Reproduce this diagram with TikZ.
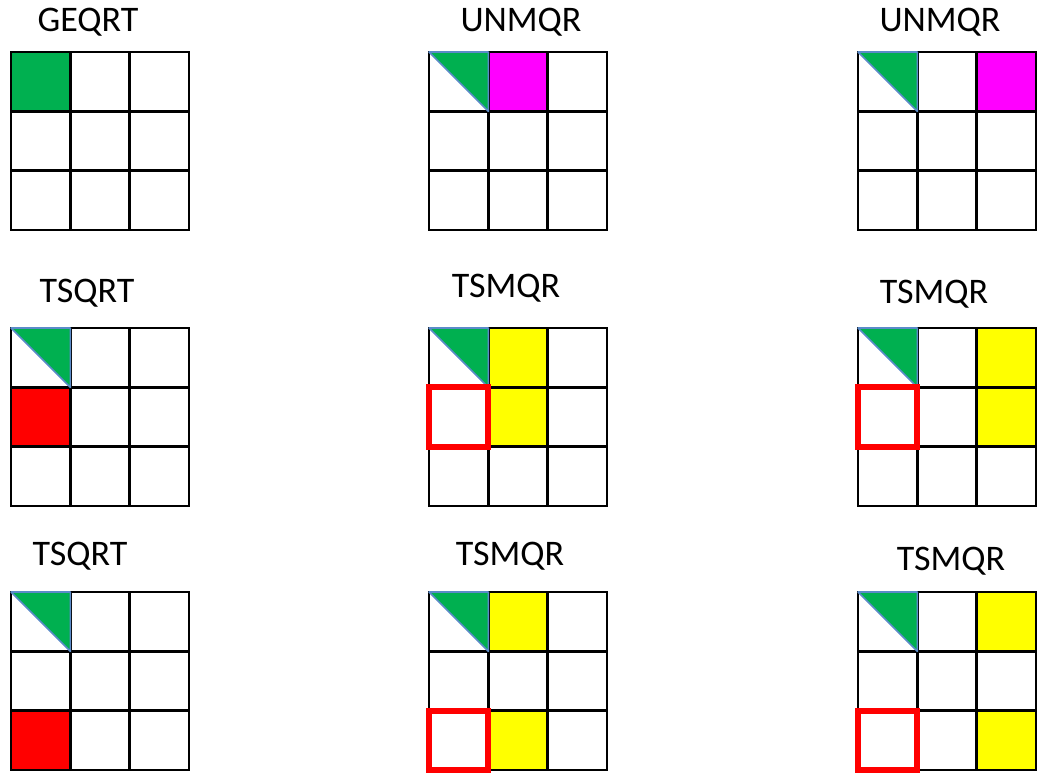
\documentclass[tikz,border=0pt]{standalone}
\usepackage{fontspec}
\setmainfont{Carlito}
\usetikzlibrary{positioning}

\definecolor{qrgreen}{HTML}{00B050}
\definecolor{qrmagenta}{HTML}{FF00FF}
\definecolor{qryellow}{HTML}{FFFF00}
\definecolor{qrred}{HTML}{FF0000}
\definecolor{qrblue}{HTML}{5B8BC9}

\newcommand{\cs}{59.33}
% cell (column, row) of the current tile
\newcommand{\tilecell}[2]{(#1*\cs,#2*\cs) rectangle ++(\cs,\cs)}
\newcommand{\tilegrid}{%
  \draw[tile] (0,0) rectangle (3*\cs,3*\cs);
  \foreach \k in {1,2} {
    \draw[tile] (\k*\cs,0) -- (\k*\cs,3*\cs);
    \draw[tile] (0,\k*\cs) -- (3*\cs,\k*\cs);
  }}
\newcommand{\tilefactor}{\filldraw[factor] (0,0) -- (\cs,0) -- (\cs,\cs) -- cycle;}

\begin{document}
\begin{tikzpicture}[x=0.5pt, y=-0.5pt,
  tile/.style={draw=black, line width=1.2pt},
  factor/.style={fill=qrgreen, draw=qrblue, line width=0.8pt, line join=round},
  kernel/.style={anchor=base, inner sep=0pt, font=\fontsize{18}{20}\selectfont},
  panel/.style={draw=qrred, line width=3pt}]
  \useasboundingbox (0,0) rectangle (1038,775);

  % Kernel names
  \node[kernel] (geqrt)  at (88,32)  {GEQRT};
  \node[kernel] (unmqra) at (521,32) {UNMQR};
  \node[kernel] (unmqrb) at (940,32) {UNMQR};
  \node[kernel] (tsqrta) at (87,302)  {TSQRT};
  \node[kernel] (tsmqra) at (506,298) {TSMQR};
  \node[kernel] (tsmqrb) at (934,303) {TSMQR};
  \node[kernel] (tsqrtb) at (80,565)  {TSQRT};
  \node[kernel] (tsmqrc) at (510,565) {TSMQR};
  \node[kernel] (tsmqrd) at (951,570) {TSMQR};

  % Row 1
  \begin{scope}[shift={(11,52)}]
    \fill[qrgreen] \tilecell{0}{0};
    \tilegrid
  \end{scope}
  \begin{scope}[shift={(429,52)}]
    \fill[qrmagenta] \tilecell{1}{0};
    \tilegrid \tilefactor
  \end{scope}
  \begin{scope}[shift={(858,52)}]
    \fill[qrmagenta] \tilecell{2}{0};
    \tilegrid \tilefactor
  \end{scope}

  % Row 2
  \begin{scope}[shift={(11,328)}]
    \fill[qrred] \tilecell{0}{1};
    \tilegrid \tilefactor
  \end{scope}
  \begin{scope}[shift={(429,328)}]
    \fill[qryellow] \tilecell{1}{0} \tilecell{1}{1};
    \tilegrid \tilefactor
    \draw[panel] \tilecell{0}{1};
  \end{scope}
  \begin{scope}[shift={(858,328)}]
    \fill[qryellow] \tilecell{2}{0} \tilecell{2}{1};
    \tilegrid \tilefactor
    \draw[panel] \tilecell{0}{1};
  \end{scope}

  % Row 3
  \begin{scope}[shift={(11,592)}]
    \fill[qrred] \tilecell{0}{2};
    \tilegrid \tilefactor
  \end{scope}
  \begin{scope}[shift={(429,592)}]
    \fill[qryellow] \tilecell{1}{0} \tilecell{1}{2};
    \tilegrid \tilefactor
    \draw[panel] \tilecell{0}{2};
  \end{scope}
  \begin{scope}[shift={(858,592)}]
    \fill[qryellow] \tilecell{2}{0} \tilecell{2}{2};
    \tilegrid \tilefactor
    \draw[panel] \tilecell{0}{2};
  \end{scope}
\end{tikzpicture}
\end{document}
